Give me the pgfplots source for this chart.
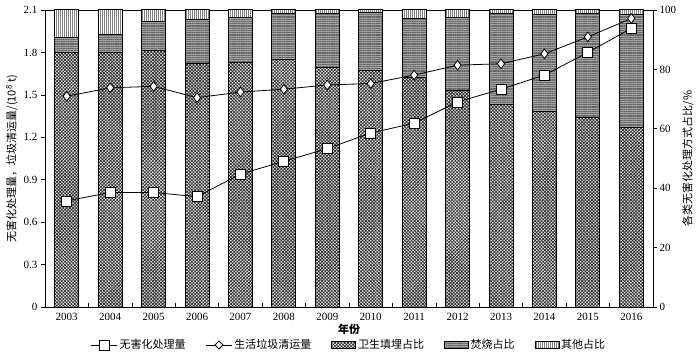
\documentclass[border=0pt]{standalone}
\usepackage{pgfplots}
\pgfplotsset{compat=1.18}
\usepackage{pgfplotstable}
\usepackage{fontspec}
\setmainfont{Liberation Serif}
\newfontfamily\cjk{Noto Sans CJK SC}
\usetikzlibrary{patterns.meta}

\pgfplotstableread{
x landfill incin other
0 85.8 5.0 9.2
1 85.8 5.8 8.4
2 86.2 10.0 3.8
3 82.0 14.9 3.1
4 82.4 15.1 2.5
5 83.2 15.5 1.3
6 80.6 18.1 1.3
7 79.6 19.5 0.9
8 77.3 19.9 2.8
9 72.8 24.7 2.5
10 68.2 30.5 1.3
11 65.8 32.6 1.6
12 63.9 34.8 1.3
13 60.5 38.0 1.5
}\shares

\pgfplotstableread{
x treat collect
0 0.75 1.49
1 0.81 1.55
2 0.81 1.56
3 0.78 1.48
4 0.94 1.52
5 1.03 1.54
6 1.12 1.57
7 1.23 1.58
8 1.30 1.64
9 1.45 1.71
10 1.54 1.72
11 1.64 1.79
12 1.80 1.91
13 1.97 2.04
}\amounts

\tikzset{
  landfillstyle/.style={draw=black, line width=1pt, fill=gray!15, postaction={pattern={Hatch[angle=45,distance=2.3pt,line width=0.65pt]}, pattern color=black!85}},
  incinstyle/.style={draw=black, line width=1pt, fill=gray!72, postaction={pattern={Lines[angle=0,distance=1.8pt,line width=0.45pt]}, pattern color=black!60}},
  otherstyle/.style={draw=black, line width=1pt, fill=white, postaction={pattern={Lines[angle=90,distance=2pt,line width=0.6pt]}, pattern color=black!50}},
}
\pgfplotsset{
  lgsquare/.style={legend image code/.code={\draw[black,line width=0.8pt] (0pt,0pt) -- (26pt,0pt); \draw[black, line width=0.8pt, fill=white] (8pt,-5pt) rectangle (18pt,5pt);}},
  lgdiamond/.style={legend image code/.code={\draw[black,line width=0.8pt] (0pt,0pt) -- (26pt,0pt); \draw[black, line width=0.8pt, fill=white] (13pt,-4pt) -- (17pt,0pt) -- (13pt,4pt) -- (9pt,0pt) -- cycle;}},
  lglandfill/.style={legend image code/.code={\draw[landfillstyle, line width=0.6pt] (0pt,-3.5pt) rectangle (24pt,3.5pt);}},
  lgincin/.style={legend image code/.code={\draw[incinstyle, line width=0.6pt] (0pt,-3.5pt) rectangle (24pt,3.5pt);}},
  lgother/.style={legend image code/.code={\draw[otherstyle, line width=0.6pt] (0pt,-3.5pt) rectangle (24pt,3.5pt);}},
}

\begin{document}
\begin{tikzpicture}[x=1pt,y=1pt]
\path[use as bounding box] (-45,-49) rectangle (655,307);

% bars: percentage, right axis
\begin{axis}[
  at={(0,0)}, anchor=south west, scale only axis,
  width=608pt, height=297pt,
  xmin=-0.5, xmax=13.5, ymin=0, ymax=100,
  axis y line*=right, axis x line*=top, xtick=\empty,
  ybar stacked, bar width=24pt,
  ytick={0,20,40,60,80,100},
  tick align=outside, major tick length=4pt,
  tick style={black, line width=0.6pt},
  axis line style={line width=0.8pt},
  /pgf/number format/assume math mode=true,
  yticklabel style={font=\fontsize{11}{13}\selectfont, xshift=-1pt},
  ylabel={\cjk 各类无害化处理方式占比/\%},
  ylabel style={at={(axis description cs:1.0576,0.5)}, anchor=center, rotate=0, font=\fontsize{11}{13}\selectfont},
]
\addplot[landfillstyle] table[x=x,y=landfill]{\shares};
\addplot[incinstyle] table[x=x,y=incin]{\shares};
\addplot[otherstyle] table[x=x,y=other]{\shares};
\end{axis}

% lines: amounts, left axis
\begin{axis}[
  at={(0,0)}, anchor=south west, scale only axis,
  width=608pt, height=297pt,
  xmin=-0.5, xmax=13.5, ymin=0, ymax=2.1,
  axis y line*=left, axis x line*=bottom,
  xtick={0,...,13},
  xticklabels={2003,2004,2005,2006,2007,2008,2009,2010,2011,2012,2013,2014,2015,2016},
  major x tick style={draw=none},
  minor xtick={0.5,1.5,...,12.5},
  minor tick length=4pt,
  minor x tick style={yshift=4pt, black, line width=0.6pt},
  ytick={0,0.3,0.6,0.9,1.2,1.5,1.8,2.1},
  yticklabels={0,0.3,0.6,0.9,1.2,1.5,1.8,2.1},
  tick align=outside, major tick length=4pt,
  tick style={black, line width=0.6pt},
  axis line style={line width=0.8pt},
  /pgf/number format/assume math mode=true,
  ticklabel style={font=\fontsize{11}{13}\selectfont},
  xticklabel style={yshift=1pt},
  xlabel={\cjk\bfseries 年份},
  xlabel style={at={(axis description cs:0.5,0)}, anchor=center, yshift=-22pt, font=\fontsize{11}{13}\selectfont},
  ylabel={\cjk 无害化处理量，垃圾清运量/(10\textsuperscript{8} t)},
  ylabel style={at={(axis description cs:-0.0543,0.5)}, anchor=center, font=\fontsize{11}{13}\selectfont},
  legend style={at={(axis description cs:0.5,0)}, anchor=center, yshift=-38pt, draw=none, fill=none,
    font=\cjk\fontsize{11}{13}\selectfont, legend columns=-1,
    /tikz/every even column/.append style={column sep=18pt},
    inner sep=0pt},
  legend cell align=left,
]
\addplot[black, line width=0.8pt, mark=square*, mark size=5pt, mark options={fill=white, draw=black, line width=0.8pt, solid}, lgsquare]
  table[x=x,y=treat]{\amounts};
\addlegendentry{无害化处理量}
\addplot[black, line width=0.8pt, mark=diamond*, mark size=4.8pt, mark options={fill=white, draw=black, line width=0.8pt, solid}, lgdiamond]
  table[x=x,y=collect]{\amounts};
\addlegendentry{生活垃圾清运量}
\addlegendimage{lglandfill}
\addlegendentry{卫生填埋占比}
\addlegendimage{lgincin}
\addlegendentry{焚烧占比}
\addlegendimage{lgother}
\addlegendentry{其他占比}
\end{axis}
\end{tikzpicture}
\end{document}
